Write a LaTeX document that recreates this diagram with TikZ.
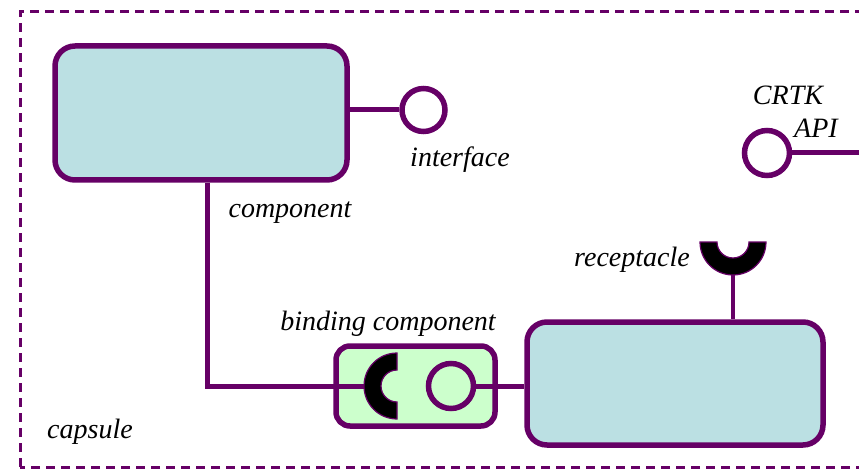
\documentclass[tikz,border=0pt]{standalone}
\usepackage{fontspec}
\setmainfont{Liberation Serif}
\definecolor{pur}{HTML}{660066}
\definecolor{boxteal}{HTML}{BBE0E3}
\definecolor{bgreen}{HTML}{CCFFCC}
\begin{document}
\begin{tikzpicture}[x=1pt,y=1pt,
 comp/.style={draw=pur, line width=5.5pt, fill=boxteal, rounded corners=20pt, inner sep=0pt},
 bind/.style={draw=pur, line width=5.5pt, fill=bgreen, rounded corners=14pt, inner sep=0pt},
 iface/.style={circle, draw=pur, line width=5.5pt, minimum size=43pt, inner sep=0pt},
 wire/.style={draw=pur, line width=5pt},
 lbl/.style={font=\fontsize{28}{31}\selectfont\itshape, inner sep=0pt},
 recep/.style={fill=black, draw=pur, line width=1.2pt}]
\useasboundingbox (0,0) rectangle (859,472);
\clip (0,0) rectangle (859,472);
\draw[pur, line width=3pt, dash pattern=on 9pt off 6pt] (20,5) rectangle (880,460);
% boxes
\node[comp, minimum width=292pt, minimum height=134pt] (c1) at (201,359) {};
\node[comp, minimum width=296pt, minimum height=123pt] (c2) at (675,88.5) {};
\node[bind, minimum width=159pt, minimum height=80pt] (bc) at (415.5,86) {};
% circles
\node[iface] (if) at (423.5,362) {};
\node[iface, minimum size=45pt] (bi) at (451,86) {};
\node[iface, minimum size=45pt] (api) at (767,319) {};
\coordinate (apiend) at (870,319);
\coordinate (bhr) at (397,86);
\coordinate (rhr) at (733,230);
\coordinate (corner) at (207,86);
% wires
\draw[wire] (if.west -| c1.east) -- (if.west);
\draw[wire] (api.east) -- (apiend);
\draw[wire] (bi.east) -- (bi.east -| c2.west);
\draw[wire] (c1.south -| corner) -- (corner) -- ([xshift=-32pt]bhr);
\draw[wire, line width=4pt] ([yshift=-33pt]rhr) -- (rhr |- c2.north);
% receptacles
\draw[recep] ([yshift=33pt]bhr) arc[start angle=90, end angle=270, radius=33pt]
  -- ([yshift=-16pt]bhr) arc[start angle=270, end angle=90, radius=16pt] -- cycle;
\draw[recep] ([xshift=-33pt]rhr) arc[start angle=180, end angle=360, radius=33pt]
  -- ([xshift=16pt]rhr) arc[start angle=0, end angle=-180, radius=16pt] -- cycle;
% labels
\node[lbl] (lif) at (460,312) {interface};
\node[lbl] (lc1) at (290,259) {component};
\node[lbl] (lbc) at (388,148) {binding component};
\node[lbl] (lrc) at (632,212) {receptacle};
\node[lbl] (lcrtk) at (788,377) {CRTK};
\node[lbl] (lapi) at (816,344) {API};
\node[lbl] (lcap) at (90,40) {capsule};
\end{tikzpicture}
\end{document}
